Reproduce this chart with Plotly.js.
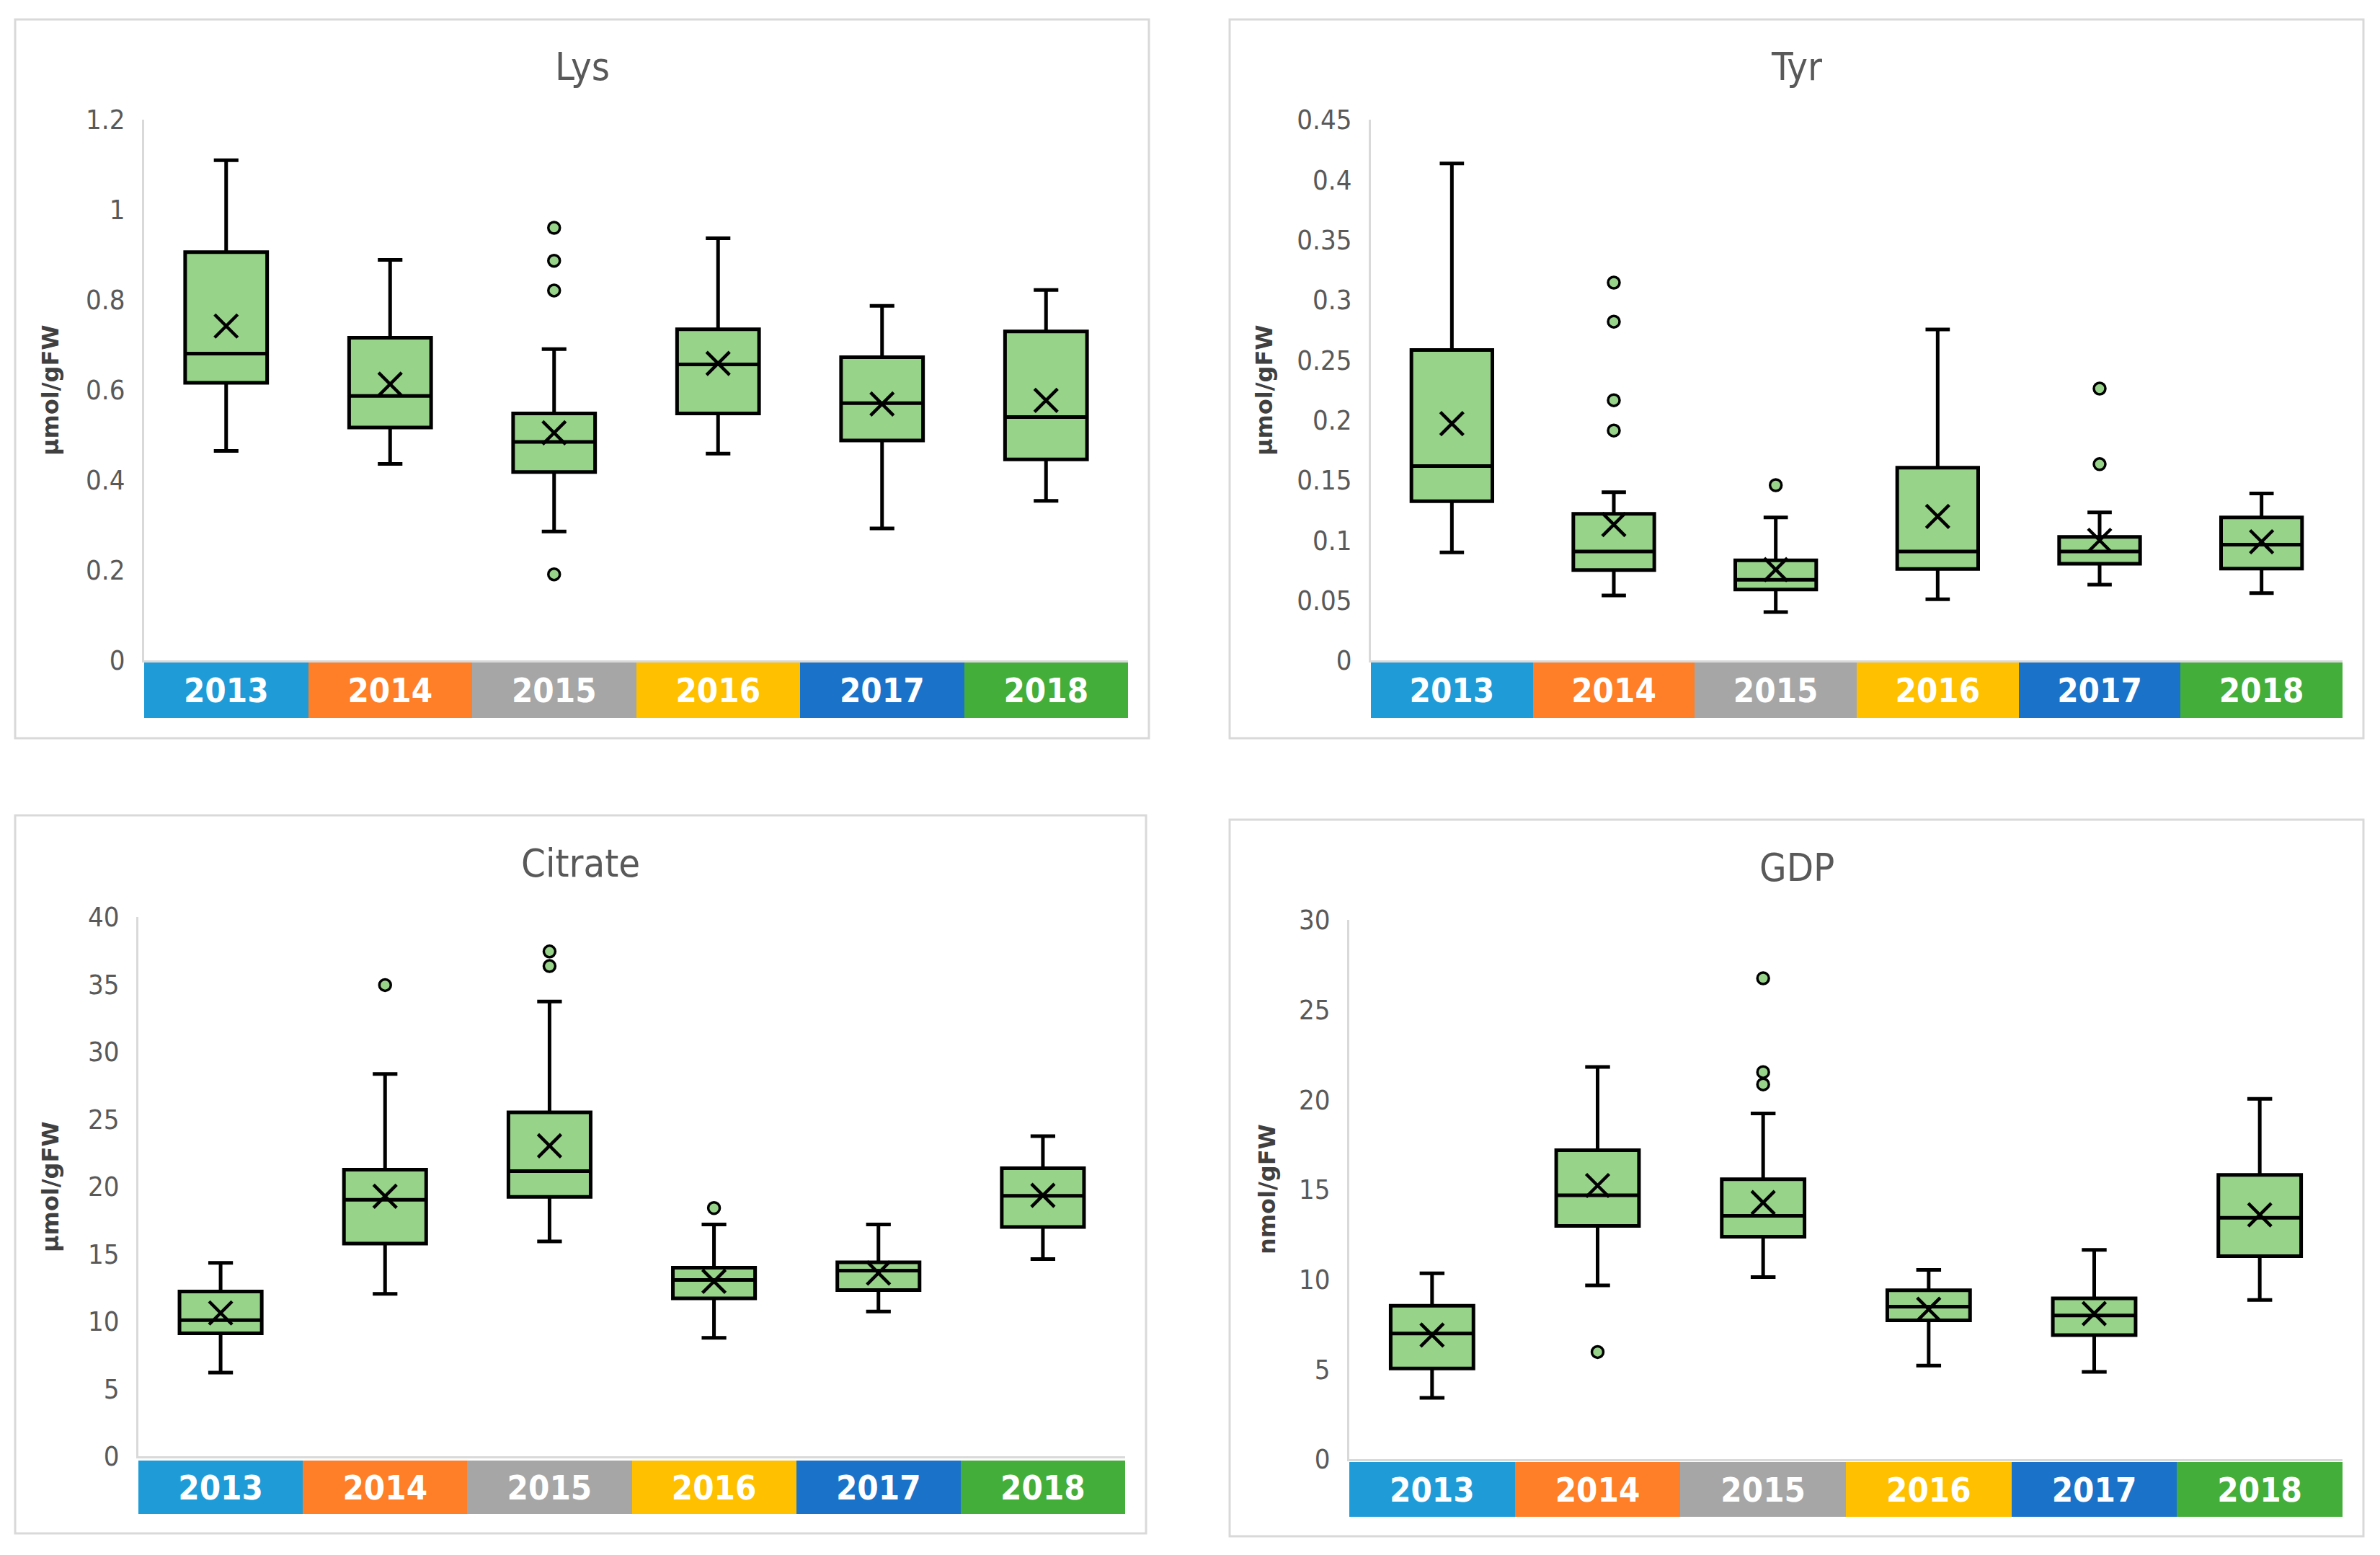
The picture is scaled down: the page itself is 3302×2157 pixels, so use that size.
<!DOCTYPE html>
<html>
<head>
<meta charset="utf-8">
<script src="https://cdn.plot.ly/plotly-3.0.1.min.js"></script>
<style>html,body{margin:0;padding:0;background:#fff;}#chart{width:3302px;height:2157px;}</style>
</head>
<body>
<div id="chart"></div>
<script>
// ---- data ----
const years = ['2013','2014','2015','2016','2017','2018'];
const yearColors = ['#1F9CD8','#FE7F27','#A6A6A6','#FFC000','#1A73C8','#44AE3A'];
const stripValue = [1,1,1,1,1,1];

// Lys (µmol/gFW)
const lysLow = [0.465,0.436,0.286,0.459,0.293,0.354];
const lysQ1  = [0.616,0.517,0.418,0.548,0.488,0.446];
const lysMed = [0.681,0.587,0.485,0.657,0.571,0.540];
const lysQ3  = [0.906,0.716,0.548,0.735,0.673,0.730];
const lysHigh= [1.110,0.889,0.691,0.937,0.787,0.822];
const lysMean= [0.742,0.613,0.505,0.659,0.569,0.577];
const lysOutX = ['2015','2015','2015','2015'];
const lysOutY = [0.960,0.887,0.821,0.191];

// Tyr (µmol/gFW)
const tyrLow = [0.0898,0.054,0.0402,0.0508,0.063,0.056];
const tyrQ1  = [0.1324,0.0751,0.0589,0.076,0.0804,0.0764];
const tyrMed = [0.1617,0.0906,0.067,0.0906,0.0906,0.0963];
const tyrQ3  = [0.2583,0.1219,0.0833,0.1604,0.1028,0.119];
const tyrHigh= [0.4135,0.140,0.119,0.2754,0.1231,0.1389];
const tyrMean= [0.197,0.113,0.0755,0.1198,0.0999,0.0987];
const tyrOutX = ['2014','2014','2014','2014','2015','2017','2017'];
const tyrOutY = [0.3144,0.2819,0.2165,0.1913,0.1458,0.2262,0.1633];

// Citrate (µmol/gFW)
const citLow = [6.20,12.04,15.93,8.79,10.74,14.63];
const citQ1  = [9.12,15.78,19.24,11.71,12.32,17.01];
const citMed = [10.09,19.03,21.15,13.08,13.77,19.32];
const citQ3  = [12.22,21.26,25.51,13.98,14.38,21.37];
const citHigh= [14.34,28.36,33.73,17.19,17.19,23.75];
const citMean= [10.63,19.28,23.03,12.97,13.59,19.35];
const citOutX = ['2014','2015','2015','2016'];
const citOutY = [34.95,37.44,36.36,18.41];

// GDP (nmol/gFW)
const gdpLow = [3.41,9.67,10.13,5.20,4.85,8.85];
const gdpQ1  = [5.04,12.97,12.37,7.72,6.90,11.29];
const gdpMed = [6.99,14.68,13.54,8.48,7.99,13.43];
const gdpQ3  = [8.53,17.19,15.57,9.40,8.94,15.81];
const gdpHigh= [10.34,21.82,19.23,10.53,11.64,20.04];
const gdpMean= [6.90,15.22,14.27,8.34,8.10,13.59];
const gdpOutX = ['2014','2015','2015','2015'];
const gdpOutY = [5.96,26.75,21.53,20.85];

const panelTitles = ['Lys','Tyr','Citrate','GDP'];
const unitLabels = ['µmol/gFW','µmol/gFW','µmol/gFW','nmol/gFW'];
const yMax = [1.2,0.45,40,30];
const yStep = [0.2,0.05,5,5];

// ---- build ----
const W = 3302, H = 2157;
const px = v => v / W;
const py = v => 1 - v / H;

const panels = [
  {frame:[21,27,1594,1024], plot:[200,166,1565,916], strip:[919,996], ytx:70},
  {frame:[1706,27,3279,1024], plot:[1902,166,3250,916], strip:[919,996], ytx:1754},
  {frame:[21,1131,1590,2127], plot:[192,1272,1561,2020], strip:[2026,2100], ytx:70},
  {frame:[1706,1137,3279,2131], plot:[1872,1276,3250,2024], strip:[2028,2104], ytx:1758}
];
const stats = [
  [lysLow,lysQ1,lysMed,lysQ3,lysHigh,lysMean,lysOutX,lysOutY],
  [tyrLow,tyrQ1,tyrMed,tyrQ3,tyrHigh,tyrMean,tyrOutX,tyrOutY],
  [citLow,citQ1,citMed,citQ3,citHigh,citMean,citOutX,citOutY],
  [gdpLow,gdpQ1,gdpMed,gdpQ3,gdpHigh,gdpMean,gdpOutX,gdpOutY]
];

const boxFill = '#98D38A';
const narrow = '"Liberation Sans Narrow","DejaVu Sans Condensed","Liberation Sans",sans-serif';
const tickFont = {family: narrow, size:38, color:'#595959'};
const traces = [];
const layout = {
  width: W, height: H,
  margin: {l:0,r:0,t:0,b:0},
  paper_bgcolor: '#ffffff', plot_bgcolor: 'rgba(0,0,0,0)',
  showlegend: false,
  barmode: 'overlay', bargap: 0,
  shapes: [], annotations: []
};

panels.forEach((p, i) => {
  const n = i + 1;
  const xa = 'x' + (n === 1 ? '' : n);
  const ya = 'y' + (n === 1 ? '' : n);
  const ys = 'y' + (n + 4);
  const [lo,q1,md,q3,hi,mn,ox,oy] = stats[i];

  traces.push({
    type:'box', x: years, q1: q1, median: md, q3: q3,
    lowerfence: lo, upperfence: hi,
    xaxis: xa, yaxis: ya,
    boxpoints: false, width: 0.5, whiskerwidth: 0.3,
    fillcolor: boxFill, line: {color:'#000000', width:5},
    hoverinfo: 'skip'
  });
  traces.push({
    type:'scatter', mode:'markers', x: ox, y: oy, xaxis: xa, yaxis: ya,
    marker: {symbol:'circle', size:16, color: boxFill, line:{color:'#000000', width:3.5}},
    hoverinfo: 'skip'
  });
  traces.push({
    type:'scatter', mode:'markers', x: years, y: mn, xaxis: xa, yaxis: ya,
    marker: {symbol:'x-thin-open', size:32, color:'#000000', line:{color:'#000000', width:4.5}},
    hoverinfo: 'skip'
  });
  traces.push({
    type:'bar', x: years, y: stripValue, xaxis: xa, yaxis: ys,
    width: 1,
    marker: {color: yearColors, line:{width:0}},
    text: years, textposition:'inside', insidetextanchor:'middle', constraintext:'none',
    textfont: {family: narrow, size:47, color:'#ffffff', weight:'bold'},
    hoverinfo: 'skip'
  });

  layout['xaxis' + (n === 1 ? '' : n)] = {
    domain: [px(p.plot[0]), px(p.plot[2])],
    anchor: ya, type:'category', categoryarray: years,
    range: [-0.5, 5.5], showticklabels:false, ticks:'',
    showline:true, linecolor:'#D9D9D9', linewidth:3, showgrid:false, zeroline:false,
    fixedrange:true
  };
  layout['yaxis' + (n === 1 ? '' : n)] = {
    domain: [py(p.plot[3]), py(p.plot[1])],
    anchor: xa, range:[0, yMax[i]], dtick: yStep[i], tick0:0,
    showline:true, linecolor:'#D9D9D9', linewidth:3, showgrid:false, zeroline:false,
    ticks:'', tickfont: tickFont, ticklabelstandoff: 16, fixedrange:true
  };
  layout['yaxis' + (n + 4)] = {
    domain: [py(p.strip[1]), py(p.strip[0])],
    anchor: xa, range:[0,1], visible:false, fixedrange:true
  };

  layout.shapes.push({
    type:'rect', xref:'paper', yref:'paper',
    x0: px(p.frame[0]), x1: px(p.frame[2]), y0: py(p.frame[3]), y1: py(p.frame[1]),
    line:{color:'#D9D9D9', width:3}, fillcolor:'rgba(0,0,0,0)', layer:'below'
  });
  layout.annotations.push({
    xref:'paper', yref:'paper', x: px((p.frame[0]+p.frame[2])/2), y: py(p.frame[1] + 66),
    text: panelTitles[i], showarrow:false, xanchor:'center', yanchor:'middle',
    font:{family: narrow, size:54, color:'#595959'}
  });
  layout.annotations.push({
    xref:'paper', yref:'paper', x: px(p.ytx), y: py((p.plot[1]+p.plot[3])/2),
    text: unitLabels[i], showarrow:false, textangle:-90, xanchor:'center', yanchor:'middle',
    font:{family:'"DejaVu Sans","Liberation Sans",sans-serif', size:32, color:'#404040', weight:'bold'}
  });
});

Plotly.newPlot('chart', traces, layout, {staticPlot:true, displayModeBar:false});
</script>
</body>
</html>
